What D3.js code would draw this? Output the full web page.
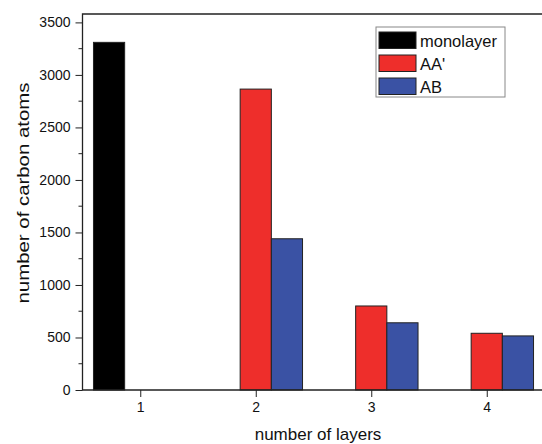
<!DOCTYPE html>
<html>
<head>
<meta charset="utf-8">
<script src="https://cdn.jsdelivr.net/npm/d3@7"></script>
<style>
  body { margin: 0; background: #fff; }
  svg { display: block; font-family: "Liberation Sans", Arial, sans-serif; }
</style>
</head>
<body>
<div id="chart"></div>
<script>
// values
const layers = [1, 2, 3, 4];
const seriesNames = ["monolayer", "AA'", "AB"];
const monolayer = [3310, null, null, null];
const aaPrime = [null, 2865, 800, 540];
const ab = [null, 1440, 640, 515];
const yTicks = [0, 500, 1000, 1500, 2000, 2500, 3000, 3500];
const yMinorTicks = d3.range(250, 3500, 500);

const colors = ["#000000", "#ee2e2b", "#3a52a4"];

const width = 542, height = 444;
const margin = { top: 14, left: 82.5, bottom: 390 };

const svg = d3.select("#chart").append("svg")
    .attr("width", width)
    .attr("height", height);

// scales
const x = d3.scaleLinear().domain([0.5, 4.5]).range([margin.left, 544.5]);
const y = d3.scaleLinear().domain([0, 3580]).range([margin.bottom, margin.top]);
const barW = x(0.27) - x(0);

// table built from the arrays above
const allSeries = [monolayer, aaPrime, ab];
const offsets = [-1, 0, 1];
let bars = [];
allSeries.forEach((vals, s) => {
    vals.forEach((v, i) => {
        if (v != null) bars.push({ layer: layers[i], value: v, s: s });
    });
});

svg.append("g").selectAll("rect")
    .data(bars)
    .enter()
    .append("rect")
    .attr("x", d => x(d.layer) + offsets[d.s] * barW - barW / 2)
    .attr("y", d => y(d.value))
    .attr("width", barW)
    .attr("height", d => y(0) - y(d.value))
    .attr("fill", d => colors[d.s])
    .attr("stroke", "#222")
    .attr("stroke-width", 1);

// y axis
const yAxis = svg.append("g")
    .attr("transform", "translate(" + margin.left + ",0)")
    .call(d3.axisLeft(y).tickValues(yTicks).tickFormat(d3.format("d")).tickSize(7).tickPadding(5).tickSizeOuter(0));
yAxis.select(".domain").remove();
yAxis.selectAll("line").attr("stroke", "#222");
yAxis.selectAll("text").attr("font-size", 14).attr("fill", "#111").attr("font-family", null);

svg.append("g").selectAll("line")
    .data(yMinorTicks)
    .enter()
    .append("line")
    .attr("x1", margin.left - 4)
    .attr("x2", margin.left)
    .attr("y1", d => y(d))
    .attr("y2", d => y(d))
    .attr("stroke", "#222");

// x axis
const xAxis = svg.append("g")
    .attr("transform", "translate(0," + margin.bottom + ")")
    .call(d3.axisBottom(x).tickValues(layers).tickFormat(d3.format("d")).tickSize(7).tickPadding(5).tickSizeOuter(0));
xAxis.select(".domain").remove();
xAxis.selectAll("line").attr("stroke", "#222");
xAxis.selectAll("text").attr("font-size", 14).attr("fill", "#111").attr("font-family", null);

// frame lines (right side runs off the picture)
svg.append("path")
    .attr("d", "M" + width + "," + margin.top + "H" + margin.left + "V" + margin.bottom + "H" + width)
    .attr("fill", "none")
    .attr("stroke", "#222")
    .attr("stroke-width", 1.3);

// axis titles
svg.append("text")
    .attr("x", 318)
    .attr("y", 440)
    .attr("text-anchor", "middle")
    .attr("font-size", 17)
    .attr("fill", "#111")
    .text("number of layers");

// y title is stretched along its length in the reference
svg.append("text")
    .attr("transform", "translate(29,193) rotate(-90) scale(1.2,1)")
    .attr("text-anchor", "middle")
    .attr("font-size", 17)
    .attr("fill", "#111")
    .text("number of carbon atoms");

// legend
const legend = svg.append("g").attr("transform", "translate(376,27)");
legend.append("rect")
    .attr("width", 129)
    .attr("height", 70)
    .attr("fill", "#fff")
    .attr("stroke", "#888");

const items = legend.selectAll(".item")
    .data(seriesNames)
    .enter()
    .append("g")
    .attr("class", "item")
    .attr("transform", (d, i) => "translate(3," + (5 + i * 23) + ")");

items.append("rect")
    .attr("width", 37)
    .attr("height", 16.5)
    .attr("fill", (d, i) => colors[i])
    .attr("stroke", "#222");

items.append("text")
    .attr("x", 41)
    .attr("y", 14.5)
    .attr("font-size", 16.5)
    .attr("fill", "#111")
    .text(d => d);
</script>
</body>
</html>
